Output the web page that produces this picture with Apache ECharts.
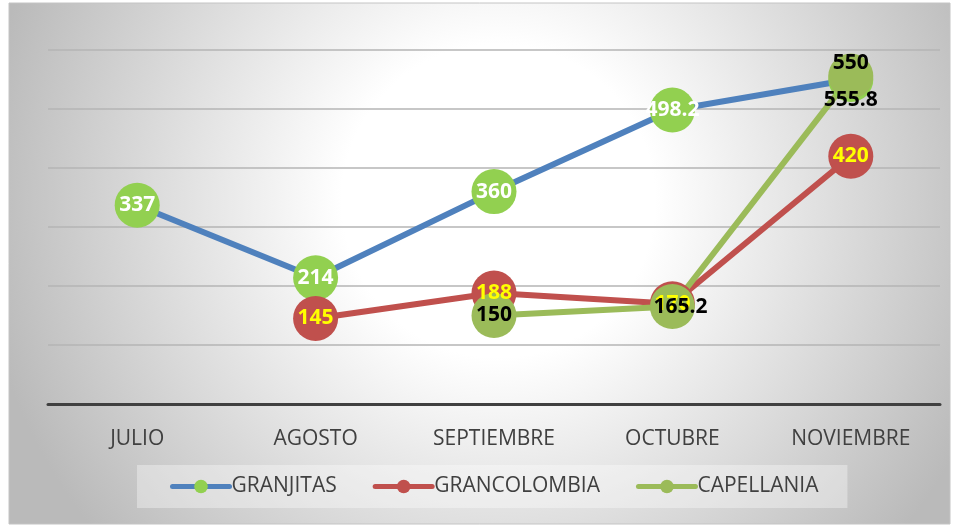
<!DOCTYPE html>
<html>
<head>
<meta charset="utf-8">
<script src="https://cdn.jsdelivr.net/npm/echarts@6/dist/echarts.min.js"></script>
<style>
  html, body { margin: 0; padding: 0; background: #fff; }
  #chart { width: 958px; height: 525px; }
</style>
</head>
<body>
<div id="chart"></div>
<script>
const months = ['JULIO', 'AGOSTO', 'SEPTIEMBRE', 'OCTUBRE', 'NOVIEMBRE'];
const granjitas = [337, 214, 360, 498.2, 550];
const grancolombia = [null, 145, 188, 170, 420];
const capellania = [null, null, 150, 165.2, 555.8];

const labelFont = '"Open Sans", "Liberation Sans", sans-serif';

const chart = echarts.init(document.getElementById('chart'));

const granjitasData = granjitas.map((v, i) => {
  if (i === 4) {
    return { value: v, label: { color: '#000', offset: [0, -16] } };
  }
  return v;
});
const capellaniaData = capellania.map((v, i) => {
  if (i === 3) return { value: v, label: { offset: [8, 0] } };
  if (i === 4) return { value: v, label: { offset: [0, 24] } };
  return v;
});

const option = {
  animation: false,
  graphic: [{
    type: 'rect',
    shape: { x: 9, y: 3, width: 941, height: 521 },
    style: {
      fill: {
        type: 'radial', x: 0.52, y: 0.38, r: 1.0,
        colorStops: [
          { offset: 0, color: '#ffffff' },
          { offset: 0.3, color: '#ffffff' },
          { offset: 1, color: '#bababa' }
        ]
      },
      stroke: '#c4c4c4',
      lineWidth: 1
    },
    z: -10,
    silent: true
  }],
  grid: { left: 48, right: 18, top: 50, bottom: 121 },
  legend: {
    bottom: 17,
    left: 137,
    backgroundColor: 'rgba(255,255,255,0.35)',
    padding: [11, 29, 11, 33],
    itemGap: 36,
    itemWidth: 57,
    itemHeight: 17,
    lineStyle: { width: 5, cap: 'round' },
    textStyle: { color: '#404040', fontSize: 21, fontFamily: labelFont, padding: [0, 0, 0, -3] },
    data: ['GRANJITAS', 'GRANCOLOMBIA', 'CAPELLANIA']
  },
  xAxis: {
    type: 'category',
    data: months,
    boundaryGap: true,
    axisLine: { lineStyle: { color: '#404040', width: 3 } },
    axisTick: { show: false },
    axisLabel: { color: '#404040', fontSize: 21, fontFamily: labelFont, margin: 25 }
  },
  yAxis: {
    type: 'value',
    min: 0,
    max: 600,
    interval: 100,
    axisLabel: { show: false },
    axisLine: { show: false },
    axisTick: { show: false },
    splitLine: { lineStyle: { color: '#b4b4b4', width: 1.5 } }
  },
  series: [
    {
      name: 'GRANJITAS',
      type: 'line',
      data: granjitasData,
      symbol: 'circle',
      symbolSize: 45,
      itemStyle: { color: '#92D050' },
      lineStyle: { color: '#4F81BD', width: 6 },
      label: {
        show: true, position: 'inside',
        color: '#fff', fontSize: 21, fontWeight: 'bold', fontFamily: labelFont
      }
    },
    {
      name: 'GRANCOLOMBIA',
      type: 'line',
      data: grancolombia,
      symbol: 'circle',
      symbolSize: 45,
      itemStyle: { color: '#C0504D' },
      lineStyle: { color: '#C0504D', width: 6 },
      label: {
        show: true, position: 'inside',
        color: '#FFFF00', fontSize: 21, fontWeight: 'bold', fontFamily: labelFont
      }
    },
    {
      name: 'CAPELLANIA',
      type: 'line',
      data: capellaniaData,
      symbol: 'circle',
      symbolSize: 45,
      itemStyle: { color: '#9BBB59' },
      lineStyle: { color: '#9BBB59', width: 6 },
      label: {
        show: true, position: 'inside',
        color: '#000', fontSize: 21, fontWeight: 'bold', fontFamily: labelFont
      }
    }
  ]
};

chart.setOption(option);
</script>
</body>
</html>
